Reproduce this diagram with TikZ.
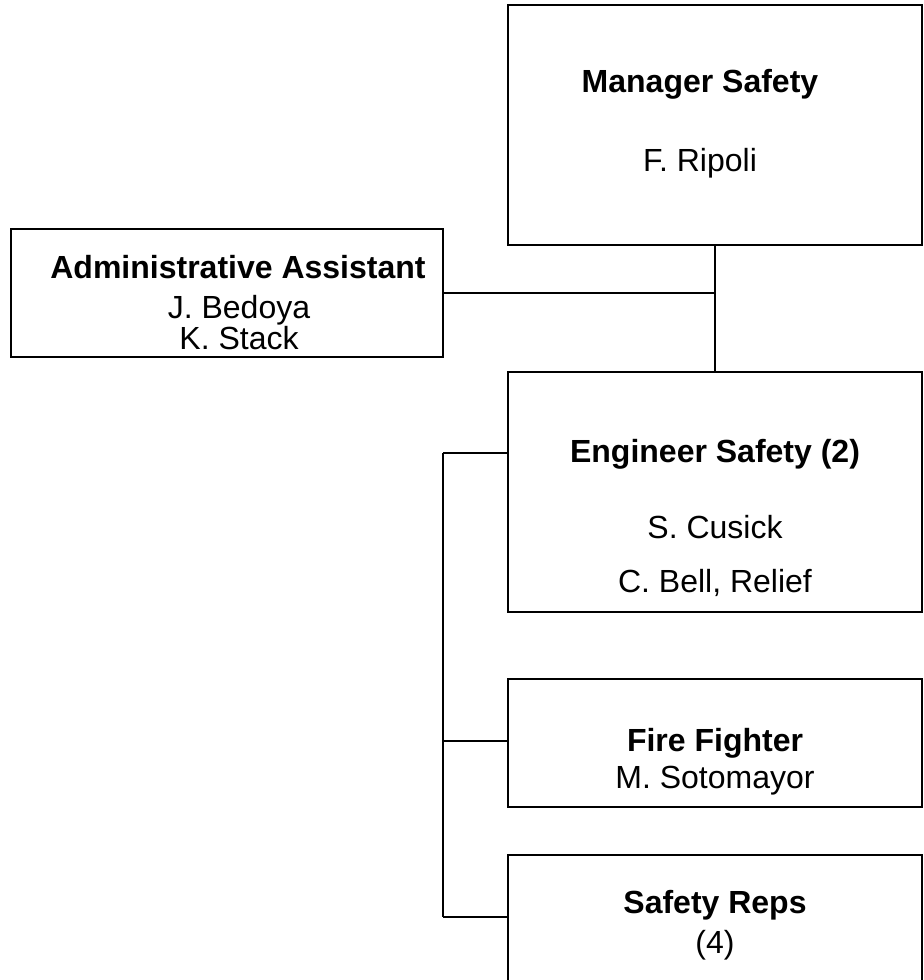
\documentclass[tikz,border=0pt]{standalone}
\usepackage{fontspec}
\setmainfont{Liberation Sans}
\usetikzlibrary{fit}
\tikzset{
  box/.style={draw, line width=1.2pt, inner sep=0pt},
  head/.style={anchor=base, font=\fontsize{24}{29}\selectfont\bfseries},
  who/.style={anchor=base, font=\fontsize{24}{29}\selectfont},
  link/.style={line width=1.2pt}
}
\begin{document}
\begin{tikzpicture}[x=0.75pt, y=-0.75pt]
  \useasboundingbox (0,0) rectangle (923,980);
  \clip (0,0) rectangle (923,980);
  % boxes
  \node[box, fit={(508,5) (922,245)}] (mgr) {};
  \node[box, fit={(11,229) (443,357)}] (adm) {};
  \node[box, fit={(508,372) (922,612)}] (eng) {};
  \node[box, fit={(508,679) (922,807)}] (fire) {};
  \node[box, fit={(508,855) (922,1010)}] (reps) {};
  % texts
  \node[head] (mgrT) at (700,93) {Manager Safety};
  \node[who] (mgrA) at (700,172) {F. Ripoli};
  \node[head] (admT) at (238,279) {Administrative Assistant};
  \node[who] (admA) at (239,318) {J. Bedoya};
  \node[who] (admB) at (239,349) {K. Stack};
  \node[head] (engT) at (715,462) {Engineer Safety (2)};
  \node[who] (engA) at (715,538) {S. Cusick};
  \node[who] (engB) at (715,592) {C. Bell, Relief};
  \node[head] (fireT) at (715,751) {Fire Fighter};
  \node[who] (fireA) at (715,788) {M. Sotomayor};
  \node[head] (repsT) at (715,913) {Safety Reps};
  \node[who] (repsA) at (715,953) {(4)};
  % connectors
  \coordinate (b1) at (443,453);
  \coordinate (b2) at (443,741);
  \coordinate (b3) at (443,917);
  \begin{scope}[link]
    \draw (mgr.south) to (eng.north);
    \draw (adm.east |- 0,293) to (mgr.south |- 0,293);
    \draw (b1) to (b3);
    \draw (b1) to (b1 -| eng.west);
    \draw (b2) to (b2 -| fire.west);
    \draw (b3) to (b3 -| reps.west);
  \end{scope}
\end{tikzpicture}
\end{document}
